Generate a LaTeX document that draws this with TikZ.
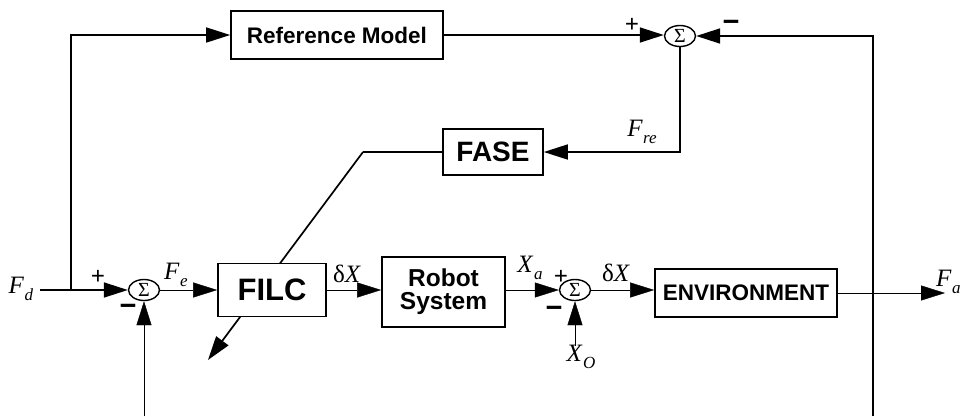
\documentclass[tikz,border=0pt]{standalone}
\usepackage{fontspec}
\setmainfont{Liberation Serif}
\setsansfont{Liberation Sans}
\usetikzlibrary{arrows.meta,shapes.geometric}
\pgfdeclarelayer{bg}
\pgfsetlayers{bg,main}
\newcommand\sublab[2]{\textit{#1}\kern0.5pt\raisebox{-0.3em}{\fontsize{17}{17}\selectfont\textit{#2}}}
\begin{document}
\begin{tikzpicture}[x=1pt,y=-1pt,line width=1.7pt,
  blk/.style={draw,fill=white,rectangle,inner sep=0pt,font=\sffamily\bfseries},
  sumn/.style={draw,fill=white,ellipse,minimum width=31pt,minimum height=21pt,inner sep=0pt,line width=1.4pt,font=\fontsize{20}{20}\selectfont},
  arr/.style={-{Triangle[length=24pt,width=15pt]}},
  lab/.style={inner sep=0pt,font=\fontsize{25}{25}\selectfont},
  sgn/.style={inner sep=0pt,font=\bfseries\fontsize{25}{25}\selectfont},
  msgn/.style={inner sep=0pt,font=\sffamily\bfseries\fontsize{29}{29}\selectfont}]
\useasboundingbox (0,0) rectangle (964,416);
% blocks
\node[blk,minimum width=212pt,minimum height=48pt,font=\sffamily\bfseries\fontsize{22.5}{22.5}\selectfont] (ref) at (337,35) {Reference Model};
\node[sumn] (s3) at (680,36) {Σ};
\node[blk,minimum width=100pt,minimum height=46pt,font=\sffamily\bfseries\fontsize{28}{28}\selectfont] (fase) at (493,152) {FASE};
\node[blk,minimum width=108pt,minimum height=53pt,font=\sffamily\bfseries\fontsize{31}{31}\selectfont] (filc) at (272,290) {FILC};
\node[blk,minimum width=123pt,minimum height=70pt,align=center,font=\sffamily\bfseries\fontsize{24.5}{23}\selectfont] (rob) at (443.5,292) {Robot\\System};
\node[sumn] (s1) at (144,290) {Σ};
\node[sumn] (s2) at (575,290) {Σ};
\node[blk,minimum width=182pt,minimum height=48pt,font=\sffamily\bfseries\fontsize{22.5}{22.5}\selectfont] (env) at (746,293) {ENVIRONMENT};
% coordinates
\coordinate (fdstart) at (40,290);
\coordinate (j1) at (71,290);
\coordinate (fout) at (945,292);
\coordinate (bot2) at (873,416);
\coordinate (bot1) at (144,416);
\coordinate (xo) at (575,346);
\coordinate (bend) at (363,152);
\coordinate (tip) at (208,360);
% connectors
\draw (fdstart) -- (j1);
\draw[arr] (j1) -- (s1.west);
\draw[arr] (j1) |- (ref.west);
\draw[arr] (ref.east) -- (ref.east -| s3.west);
\draw[arr] (bot2) |- (s3.east);
\draw[arr] (s3.south) |- (fase.east);
\begin{pgfonlayer}{bg}
\draw[line width=1.7pt] (fase.west) -- (bend);
\draw[line width=1.7pt,arr] (bend) -- (tip);
\end{pgfonlayer}
\draw[arr] (s1.east) -- (filc.west);
\draw[arr] (filc.east) -- (filc.east -| rob.west);
\draw[arr] (s2.west -| rob.east) -- (s2.west);
\draw[arr] (s2.east) -- (s2.east -| env.west);
\draw[arr] (env.east) -- (env.east -| fout);
\draw[arr] (bot1) -- (s1.south);
\draw[arr] (xo) -- (s2.south);
% labels
\node[lab] (lfd) at (21,289) {\sublab{F}{d}};
\node[sgn] (p1) at (98,277) {+};
\node[msgn] (m1) at (128,310) {−};
\node[lab] (lfe) at (176,275) {\sublab{F}{e}};
\node[lab] (ldx1) at (347,274) {δ\textit{X}};
\node[lab] (lxa) at (530,268) {\sublab{X}{a}};
\node[sgn] (p2) at (561,277) {+};
\node[msgn] (m2) at (554,312) {−};
\node[lab] (ldx2) at (616,273) {δ\textit{X}};
\node[lab] (lxo) at (581,357) {\sublab{X}{O}};
\node[lab,anchor=west] (lfa) at (936,282) {\sublab{F}{a}};
\node[sgn] (p3) at (632,25) {+};
\node[msgn] (m3) at (731,26) {−};
\node[lab] (lfre) at (642,132) {\sublab{F}{re}};
\end{tikzpicture}
\end{document}
